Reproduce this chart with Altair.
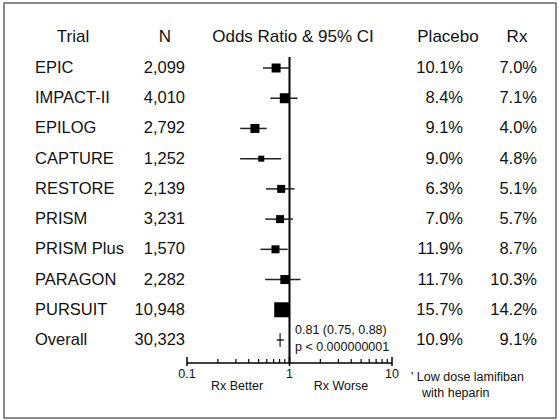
import altair as alt
import pandas as pd

trials = ["EPIC", "IMPACT-II", "EPILOG", "CAPTURE", "RESTORE", "PRISM",
          "PRISM Plus", "PARAGON", "PURSUIT", "Overall"]
n_txt = ["2,099", "4,010", "2,792", "1,252", "2,139", "3,231", "1,570",
         "2,282", "10,948", "30,323"]
placebo = ["10.1%", "8.4%", "9.1%", "9.0%", "6.3%", "7.0%", "11.9%",
           "11.7%", "15.7%", "10.9%"]
rx = ["7.0%", "7.1%", "4.0%", "4.8%", "5.1%", "5.7%", "8.7%", "10.3%",
      "14.2%", "9.1%"]
odds = [0.74, 0.90, 0.46, 0.53, 0.83, 0.81, 0.73, 0.90, 0.84, 0.81]
lo = [0.55, 0.65, 0.33, 0.33, 0.59, 0.58, 0.52, 0.58, 0.77, 0.75]
hi = [1.01, 1.20, 0.60, 0.83, 1.12, 1.08, 0.96, 1.28, 0.93, 0.88]
box = [9, 10, 9, 6, 8, 8, 8, 9, 15, 0]

minor_vals = [0.2, 0.3, 0.4, 0.5, 0.6, 0.7, 0.8, 0.9,
              2, 3, 4, 5, 6, 7, 8, 9]
major_vals = [0.1, 1, 10]
major_lbls = ["0.1", "1", "10"]

headers = ["Trial", "N", "Odds Ratio & 95% CI", "Placebo", "Rx"]
header_x = [73, 165, 293, 448, 517]
notes = ["Rx Better", "Rx Worse", "0.81 (0.75, 0.88)", "p < 0.000000001",
         "' Low dose lamifiban", "with heparin"]
note_x = [237, 341, 295, 295, 411, 422]
note_y = [386, 386, 330, 347, 377, 393]
note_align = ["center", "center", "left", "left", "left", "left"]

df = pd.DataFrame({"trial": trials, "n": n_txt, "placebo": placebo, "rx": rx,
                   "or": odds, "lo": lo, "hi": hi,
                   "sz": [b * b for b in box]})
trial_df = df[df.trial != "Overall"]
overall_df = df[df.trial == "Overall"]
minor_df = pd.DataFrame({"v": minor_vals})
lbl_df = pd.DataFrame({"v": major_vals, "lbl": major_lbls})
one = pd.DataFrame({"a": [0]})

FONT = "Liberation Sans"
xs = alt.Scale(type="log", domain=[0.1, 10], range=[187, 392])
ys = alt.Scale(type="point", domain=trials, range=[68, 340], padding=0)
X = lambda f: alt.X(f, type="quantitative", scale=xs, axis=None)
Y = alt.Y("trial:N", scale=ys, axis=None)

layers = []
layers.append(alt.Chart(one).mark_rect(fill="white", fillOpacity=0, stroke="#666",
                                       strokeWidth=1.5).encode(
    x=alt.value(4), x2=alt.value(556), y=alt.value(3), y2=alt.value(418)))

for h, hx in zip(headers, header_x):
    layers.append(alt.Chart(one).mark_text(font=FONT, fontSize=17, color="#111",
                                           text=h).encode(
        x=alt.value(hx), y=alt.value(37)))

for field, px, al in [("trial", 35, "left"), ("n", 185, "right"),
                      ("placebo", 463, "right"), ("rx", 537, "right")]:
    layers.append(alt.Chart(df).mark_text(font=FONT, fontSize=16.5, align=al,
                                          color="#111").encode(
        x=alt.value(px), y=Y, text=f"{field}:N"))

layers.append(alt.Chart(lbl_df[lbl_df.v == 1]).mark_rule(color="#000", strokeWidth=2).encode(
    x=X("v"), y=alt.value(57), y2=alt.value(363)))

layers.append(alt.Chart(df).mark_rule(color="#222", strokeWidth=1.5).encode(
    x=X("lo"), x2="hi", y=Y))
layers.append(alt.Chart(trial_df).mark_square(color="#000", opacity=1).encode(
    x=X("or"), y=Y, size=alt.Size("sz:Q", scale=None, legend=None)))
layers.append(alt.Chart(overall_df).mark_tick(color="#000", thickness=1.5, size=14,
                                              orient="vertical").encode(x=X("or"), y=Y))

layers.append(alt.Chart(lbl_df).mark_line(color="#000", strokeWidth=1.5).encode(
    x=X("v"), y=alt.value(363)))
layers.append(alt.Chart(minor_df).mark_rule(color="#000", strokeWidth=1.2).encode(
    x=X("v"), y=alt.value(363), y2=alt.value(359)))
layers.append(alt.Chart(lbl_df).mark_rule(color="#000", strokeWidth=1.5).encode(
    x=X("v"), y=alt.value(366), y2=alt.value(357)))
layers.append(alt.Chart(lbl_df).mark_text(font=FONT, fontSize=12.5, color="#111").encode(
    x=X("v"), y=alt.value(374), text="lbl:N"))

for t, nx, ny, al in zip(notes, note_x, note_y, note_align):
    layers.append(alt.Chart(one).mark_text(font=FONT, fontSize=12.5, align=al,
                                           color="#111", text=t).encode(
        x=alt.value(nx), y=alt.value(ny)))

chart = alt.layer(*layers).properties(
    width=559, height=420, padding=0, autosize="none", background="white"
).configure_view(stroke=None)

chart.save("out.html", embed_options={"renderer": "svg", "actions": False})
